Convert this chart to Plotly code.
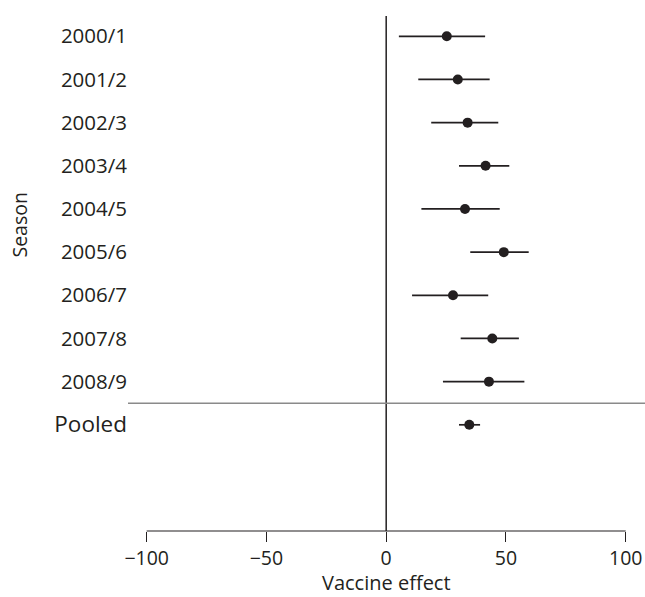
import plotly.graph_objects as go

seasons = ["2000/1", "2001/2", "2002/3", "2003/4", "2004/5", "2005/6",
           "2006/7", "2007/8", "2008/9", "Pooled"]
effect = [25.3, 29.9, 34.0, 41.5, 32.9, 49.1, 27.9, 44.3, 42.9, 34.7]
lower = [5.3, 13.4, 18.8, 30.4, 14.7, 35.1, 10.8, 31.1, 23.7, 30.4]
upper = [41.3, 43.2, 46.8, 51.4, 47.4, 59.5, 42.6, 55.4, 57.7, 39.2]
xticks = [-100, -50, 0, 50, 100]

ypos = list(range(len(seasons)))
ticktext = seasons[:-1] + ['<span style="font-size:22.5px">Pooled</span>']

ink = "#231f20"
font = "Open Sans"

fig = go.Figure()
fig.add_trace(go.Scatter(
    x=effect, y=ypos, mode="markers",
    marker=dict(size=10, color=ink),
    error_x=dict(type="data", symmetric=False,
                 array=[u - e for u, e in zip(upper, effect)],
                 arrayminus=[e - l for e, l in zip(effect, lower)],
                 width=0, thickness=1.7, color=ink),
    showlegend=False,
))

# zero line
fig.add_shape(type="line", xref="x", yref="paper", x0=0, x1=0, y0=0, y1=1,
              line=dict(color=ink, width=1.5))
# x axis line spanning tick range
fig.add_shape(type="line", xref="x", yref="paper", x0=xticks[0], x1=xticks[-1],
              y0=0, y1=0, line=dict(color=ink, width=1.2))
# separator above pooled
fig.add_shape(type="line", xref="paper", yref="y", x0=0, x1=1, y0=8.5, y1=8.5,
              line=dict(color="#8a8a8a", width=1.6))

fig.add_annotation(text="Season", xref="paper", yref="paper",
                   x=-0.209, y=0.595, textangle=-90, showarrow=False,
                   font=dict(size=19.5, color=ink, family=font),
                   xanchor="center", yanchor="middle")
fig.add_annotation(text="Vaccine effect", xref="x", yref="paper",
                   x=0, y=-66 / 515, showarrow=False,
                   font=dict(size=20, color=ink, family=font),
                   xanchor="center", yanchor="bottom", borderpad=0)

fig.update_layout(
    width=645, height=597,
    margin=dict(l=128, r=0, t=16, b=66),
    paper_bgcolor="white", plot_bgcolor="white",
    font=dict(family=font, size=20.5, color=ink),
    xaxis=dict(range=[-107.8, 108.06], tickvals=xticks, showgrid=False,
               zeroline=False, showline=False, ticks="outside", ticklen=10,
               tickwidth=1.2, tickcolor=ink, tickfont=dict(size=19.5)),
    yaxis=dict(range=[11.46, -0.47], tickvals=ypos, ticktext=ticktext,
               showgrid=False, zeroline=False, showline=False, ticks="",
               tickfont=dict(size=20.5)),
)

fig.write_html("out.html")
